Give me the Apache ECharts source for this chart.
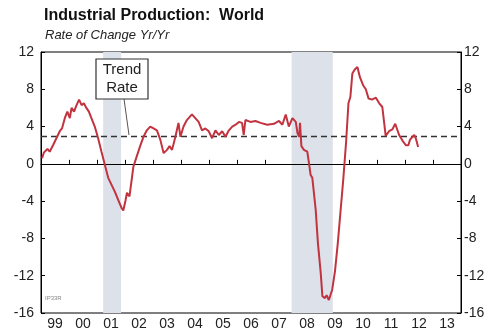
<!DOCTYPE html>
<html><head><meta charset="utf-8">
<script src="https://cdn.jsdelivr.net/npm/echarts@6/dist/echarts.min.js"></script>
<style>html,body{margin:0;padding:0;background:#fff}#c{width:500px;height:333px}</style>
</head><body><div id="c"></div>
<script>
var yearLabels = ['99','00','01','02','03','04','05','06','07','08','09','10','11','12','13'];
var yTicks = [-16,-12,-8,-4,0,4,8,12];
var trendRate = 3;
var recessions = [[2001.22, 2001.86], [2007.95, 2009.42]];
var dates = [
1999.04,1999.10,1999.17,1999.23,1999.31,1999.43,1999.55,1999.67,1999.75,1999.85,1999.94,
2000.03,2000.09,2000.18,2000.27,2000.36,2000.45,2000.53,2000.62,2000.71,2000.80,2000.92,
2001.04,2001.16,2001.28,2001.40,2001.52,2001.64,2001.76,2001.88,2001.94,
2002.02,2002.07,2002.16,2002.30,2002.42,2002.54,2002.66,2002.78,2002.90,
2003.02,2003.14,2003.26,2003.38,2003.50,2003.59,2003.68,2003.80,2003.91,2003.98,
2004.09,2004.21,2004.39,2004.51,2004.63,2004.75,2004.87,2004.99,
2005.11,2005.23,2005.35,2005.47,2005.59,2005.71,2005.83,2005.95,
2006.07,2006.18,2006.24,2006.30,2006.48,2006.66,2006.84,
2007.08,2007.32,2007.50,2007.62,2007.74,2007.85,2007.98,
2008.10,2008.16,2008.22,2008.25,2008.30,2008.39,2008.51,2008.57,2008.63,2008.69,2008.81,2008.89,2008.99,
2009.05,2009.14,2009.20,2009.28,2009.40,2009.50,2009.60,2009.70,2009.80,2009.90,2009.98,
2010.05,2010.12,2010.20,2010.30,2010.39,2010.51,2010.60,2010.70,2010.82,2010.96,
2011.08,2011.19,2011.31,2011.43,2011.55,2011.65,2011.79,2011.91,
2012.03,2012.12,2012.18,2012.33,2012.39,2012.47
];
var values = [
0.6,1.2,1.0,1.6,1.3,2.0,2.75,3.5,3.8,4.9,5.6,
4.9,6.0,5.6,6.3,6.9,6.3,6.5,6.0,5.6,4.9,4.0,
2.75,1.3,-0.1,-1.5,-2.25,-3.0,-3.9,-4.75,-5.0,
-3.9,-3.1,-3.5,-0.3,0.8,1.9,2.9,3.6,4.0,
3.8,3.6,2.6,1.15,1.5,1.9,1.5,2.9,4.4,2.9,
4.0,4.7,5.3,4.9,4.5,3.6,3.8,3.5,
2.75,3.6,3.1,3.5,2.9,3.6,4.0,4.2,
4.5,4.4,3.1,4.7,4.5,4.6,4.4,
4.2,4.3,4.6,4.2,5.3,4.0,4.9,
4.5,3.3,2.9,4.4,1.9,1.5,1.3,0.1,-1.2,-1.5,-4.9,-8.5,-11.7,
-14.2,-14.4,-14.1,-14.6,-13.5,-11.5,-8.5,-5.0,-1.5,2.5,6.5,
7.2,9.7,10.1,10.4,9.3,8.4,8.0,7.0,6.9,7.1,
6.5,6.1,3.0,3.5,3.7,4.3,3.1,2.5,
2.0,2.0,2.6,3.1,2.7,1.8
];

var series = dates.map(function(d,i){return [d, values[i]];});
var chart = echarts.init(document.getElementById('c'), null, {renderer:'canvas'});
var FONT = 'Liberation Sans, Arial, sans-serif';
var yAxisBase = {
  type:'value', min:yTicks[0], max:yTicks[yTicks.length-1], interval:4,
  splitLine:{show:false},
  axisLine:{show:true, lineStyle:{color:'#000', width:1}},
  axisTick:{show:true, inside:true, length:4, lineStyle:{color:'#000'}},
  axisLabel:{fontSize:14, color:'#222', fontFamily:FONT}
};
chart.setOption({
  animation:false,
  title:[
    {text:'Industrial Production:  World', left:39, top:3,
     textStyle:{fontSize:16, fontWeight:'bold', color:'#111', fontFamily:FONT}},
    {text:'Rate of Change Yr/Yr', left:40, top:24,
     textStyle:{fontSize:13, fontStyle:'italic', fontWeight:'normal', color:'#222', fontFamily:FONT}}
  ],
  grid:{left:41, right:39, top:52, bottom:20, show:true, borderColor:'#000', borderWidth:1, backgroundColor:'transparent'},
  xAxis:[
    {type:'value', min:1999, max:2014, show:false},
    {type:'category', data:yearLabels, boundaryGap:true, position:'bottom',
     axisLine:{show:true, lineStyle:{color:'#000'}},
     axisTick:{show:true, inside:true, length:4, alignWithLabel:false, lineStyle:{color:'#000'}},
     axisLabel:{fontSize:14, color:'#222', margin:4, fontFamily:FONT, interval:0},
     splitLine:{show:false}}
  ],
  yAxis:[
    Object.assign({}, yAxisBase, {position:'left', axisLabel:Object.assign({}, yAxisBase.axisLabel, {margin:7})}),
    Object.assign({}, yAxisBase, {position:'right', axisLabel:Object.assign({}, yAxisBase.axisLabel, {margin:3})})
  ],
  series:[
    {type:'line', xAxisIndex:0, yAxisIndex:0, data:[], z:1,
     markArea:{silent:true, z:1, itemStyle:{color:'#dde2ea'},
       data: recessions.map(function(r){return [{xAxis:r[0]},{xAxis:r[1]}];})}},
    {type:'line', xAxisIndex:0, yAxisIndex:0, data:series, showSymbol:false,
     lineStyle:{color:'#c23340', width:2}, z:5,
     markLine:{silent:true, symbol:'none', label:{show:false}, z:4,
       data:[
         {yAxis:0, lineStyle:{color:'#000', width:1, type:'solid'}},
         {yAxis:trendRate, lineStyle:{color:'#333', width:1.3, type:[6,4]}}
       ]}}
  ],
  graphic:[
    {type:'line', z:100, shape:{x1:124, y1:99, x2:129, y2:135}, style:{stroke:'#555', lineWidth:1}},
    {type:'rect', z:100, shape:{x:96, y:59, width:52, height:40}, style:{fill:'#fff', stroke:'#333', lineWidth:1.2}},
    {type:'text', z:101, x:122, y:79, style:{text:'Trend\nRate', fill:'#222', font:'15px '+FONT, textAlign:'center', textVerticalAlign:'middle', lineHeight:18}},
    {type:'text', z:100, x:45, y:298, style:{text:'IP33R', fill:'#888', font:'6px '+FONT, textVerticalAlign:'middle'}}
  ]
});
</script></body></html>
